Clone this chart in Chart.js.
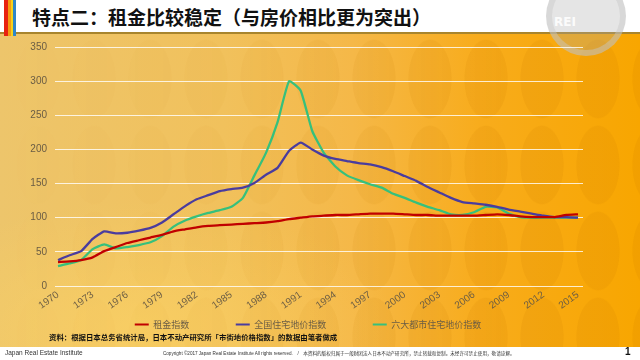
<!DOCTYPE html>
<html><head><meta charset="utf-8">
<script src="https://cdn.jsdelivr.net/npm/chart.js@4.4.1/dist/chart.umd.min.js"></script>
<style>
html,body{margin:0;padding:0;}
body{width:640px;height:360px;position:relative;overflow:hidden;font-family:"Noto Sans CJK SC","Noto Sans",sans-serif;
background:linear-gradient(90deg,#EDC56B 0%,#F1C15C 35%,#F5B848 55%,#F8AC1C 75%,#F8A600 100%);}
#glow{position:absolute;left:-120px;top:200px;width:520px;height:260px;border-radius:50%;
background:radial-gradient(ellipse at center,rgba(255,214,100,0.55) 0%,rgba(255,214,100,0.0) 70%);}
#dots{position:absolute;left:0;top:36px;width:640px;height:311px;
background-image:radial-gradient(ellipse 22px 40px at 50% 50%,rgba(205,125,0,0.14) 96%,rgba(205,125,0,0) 100%);
background-size:56px 86px;background-position:10px 0;
-webkit-mask-image:linear-gradient(90deg,rgba(0,0,0,0) 0%,rgba(0,0,0,0.25) 35%,rgba(0,0,0,1) 80%);
mask-image:linear-gradient(90deg,rgba(0,0,0,0) 0%,rgba(0,0,0,0.25) 35%,rgba(0,0,0,1) 80%);}
#header{position:absolute;left:0;top:0;width:640px;height:32px;background:#fff;border-bottom:2px solid #A8852E;}
#stripe{position:absolute;left:4px;top:0;width:12px;height:36px;
background:linear-gradient(90deg,#E8210F 0 33%,#F49A12 33% 60%,#F7D21A 60% 75%,#2F86C8 75% 100%);}
#title{position:absolute;left:32px;top:4px;font-size:19px;line-height:25px;font-weight:bold;color:#111;white-space:nowrap;}
#logo{position:absolute;left:546px;top:-24px;width:68px;height:68px;border-radius:50%;border:6px solid rgba(200,200,200,0.45);
background:rgba(170,170,170,0.3);}
#logotxt{position:absolute;left:554px;top:15px;font-family:"DejaVu Sans",sans-serif;font-weight:bold;font-size:12px;color:rgba(255,255,255,0.9);}
#wrap{position:absolute;left:0;top:33px;width:616px;height:306px;}
#source{position:absolute;left:49px;top:332px;font-size:7.4px;line-height:10px;font-weight:bold;color:#111;white-space:nowrap;}
#footer{position:absolute;left:0;top:347px;width:640px;height:13px;background:#fff;}
#jrei{position:absolute;left:5px;top:349px;font-family:"Liberation Sans",sans-serif;font-size:6.5px;color:#333;}
#copy{position:absolute;left:163px;top:350px;font-family:"Liberation Sans","Noto Sans CJK SC",sans-serif;font-size:4.6px;color:#333;white-space:nowrap;}
#page{position:absolute;left:625px;top:346px;font-family:"Liberation Sans",sans-serif;font-size:10px;font-weight:bold;color:#111;}
</style></head>
<body>
<div id="glow"></div>
<div id="dots"></div>
<div id="header"></div>
<div id="stripe"></div>
<div id="title">特点二：租金比较稳定（与房价相比更为突出）</div>
<div id="logo"></div>
<div id="logotxt">REI</div>
<div id="wrap"><canvas id="c"></canvas></div>
<div id="source">资料：根据日本总务省统计局，日本不动产研究所「市街地价格指数」的数据由笔者做成</div>
<div id="footer"></div>
<div id="jrei">Japan Real Estate Institute</div>
<div id="copy">Copyright ©2017 Japan Real Estate Institute All rights reserved.　/　本资料的版权归属于一般财团法人日本不动产研究所，禁止转载和复制。未经许可禁止使用，敬请谅解。</div>
<div id="page">1</div>
<script>
const years = [1970,1971,1972,1973,1974,1975,1976,1977,1978,1979,
1980,1981,1982,1983,1984,1985,1986,1987,1988,1989,
1990,1991,1992,1993,1994,1995,1996,1997,1998,1999,
2000,2001,2002,2003,2004,2005,2006,2007,2008,2009,
2010,2011,2012,2013,2014,2015];
const tickYears = [1970,1973,1976,1979,1982,1985,1988,1991,1994,1997,2000,2003,2006,2009,2012,2015];
const yTicks = [0,50,100,150,200,250,300,350];
const seriesNames = ["租金指数","全国住宅地价指数","六大都市住宅地价指数"];
const rentIndex = [35,36,38,42,51,57,63,67,71,75,
80,83,86,88,89,90,91,92,93,95,
98,100,102,103,104,104,105,106,106,106,
105,104,104,103,103,103,103,104,105,104,
102,101,101,101,104,105];
const nationalLand = [38,45,51,69,80,77,78,81,85,93,
105,117,127,133,139,142,144,151,163,173,
198,210,200,191,186,183,180,178,174,168,
161,154,145,137,129,123,121,119,116,112,
109,106,103,101,101,100];
const sixCitiesLand = [29,33,38,54,61,55,57,60,64,73,
87,96,102,107,111,116,129,162,195,240,
300,286,227,195,175,162,155,149,144,135,
129,122,116,111,105,104,108,116,115,106,
101,100,100,100,100,100];
const colors = ["#C00000","#4A3C9E","#36C07C"];
const legendGap = "\u3000\u3000\u3000\u3000\u2002";

const toXY = arr => arr.map((v,i)=>({x:years[i],y:v}));
const mk = (i,arr)=>({label:seriesNames[i],data:toXY(arr),borderColor:colors[i],backgroundColor:colors[i],
  borderWidth:2.3,pointRadius:0,tension:0.15,fill:false});

new Chart(document.getElementById('c'),{
  type:'line',
  data:{datasets:[mk(0,rentIndex),mk(1,nationalLand),mk(2,sixCitiesLand)]},
  options:{
    responsive:true,maintainAspectRatio:false,animation:false,
    layout:{padding:{top:4,left:0,right:0,bottom:0}},
    plugins:{
      tooltip:{enabled:false},
      legend:{position:'bottom',onClick:null,
        labels:{boxWidth:14,boxHeight:2,padding:6,
          font:{family:"'Noto Sans CJK SC'",size:9},color:'#6a5c44',
          generateLabels:(chart)=>chart.data.datasets.map((ds,i)=>({
            text: ds.label + (i < chart.data.datasets.length-1 ? legendGap : ""),
            fillStyle: ds.borderColor, strokeStyle: ds.borderColor, lineWidth:0,
            hidden:false, datasetIndex:i, fontColor:'#6a5c44'}))}}
    },
    scales:{
      x:{type:'linear',min:1969.74,max:2015.43,
        grid:{display:false,drawTicks:false,tickLength:0},border:{display:false},
        afterBuildTicks:s=>{s.ticks=tickYears.map(v=>({value:v}));},
        afterFit:s=>{s.height=28;},
        ticks:{autoSkip:false,minRotation:35,maxRotation:35,padding:3,
          font:{family:"'Liberation Sans'",size:10},color:'#6a5c44',
          callback:v=>String(v)}},
      y:{type:'linear',min:0,max:350,position:'left',
        afterBuildTicks:s=>{s.ticks=yTicks.map(v=>({value:v}));},
        afterFit:s=>{s.width=55;},
        grid:{color:'rgba(255,255,255,0.8)',lineWidth:1,drawTicks:false},border:{display:false},
        ticks:{padding:8,font:{family:"'Liberation Sans'",size:10},color:'#6a5c44'}},
      y2:{type:'linear',position:'right',display:true,grid:{display:false},border:{display:false},
        ticks:{display:false},afterFit:s=>{s.width=33;}}
    }
  }
});
</script>
</body></html>
